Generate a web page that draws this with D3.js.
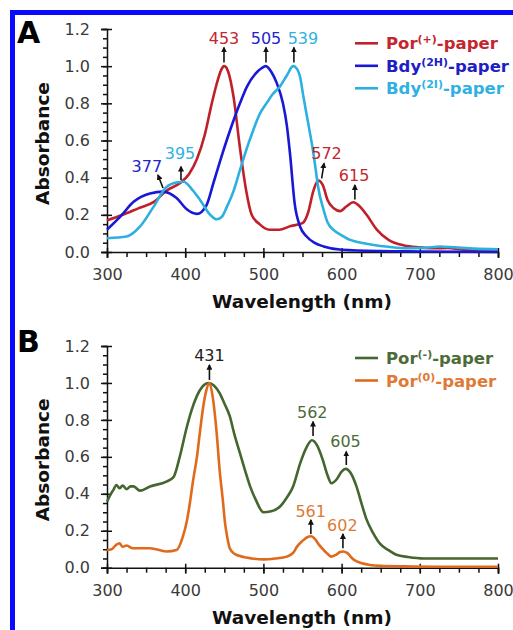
<!DOCTYPE html>
<html>
<head>
<meta charset="utf-8">
<script src="https://cdn.jsdelivr.net/npm/d3@7/dist/d3.min.js"></script>
<style>
  html, body { margin: 0; padding: 0; background: #fff; }
  svg { display: block; font-family: 'DejaVu Sans', Verdana, sans-serif; }
  .axis-title { font-weight: bold; font-size: 18.5px; fill: #111; }
  .legend text { font-weight: bold; font-size: 16.5px; }
  .peak { font-size: 16px; }
</style>
</head>
<body>
<svg id="chart"></svg>
<script>
'use strict';

// ---- data ----
const xTicks = [300, 400, 500, 600, 700, 800];
const yTicks = [0, 0.2, 0.4, 0.6, 0.8, 1.0, 1.2];

const porPlusW = [300, 320, 340, 360, 376, 393, 405, 415, 425, 434, 442, 446, 450, 455, 462, 470, 478, 485, 495, 508, 520, 535, 550, 557, 564, 570, 576, 582, 590, 598, 606, 615, 622, 632, 645, 660, 680, 700, 720, 735, 760, 800];
const porPlusA = [0.17, 0.20, 0.235, 0.27, 0.33, 0.37, 0.42, 0.50, 0.63, 0.80, 0.93, 0.98, 1.0, 0.97, 0.83, 0.56, 0.33, 0.20, 0.15, 0.12, 0.12, 0.14, 0.155, 0.21, 0.33, 0.385, 0.36, 0.28, 0.235, 0.22, 0.245, 0.268, 0.25, 0.20, 0.12, 0.065, 0.035, 0.025, 0.02, 0.022, 0.01, 0.005];

const bdy2HW = [300, 317, 334, 355, 372, 389, 402, 415, 427, 436, 445, 453, 462, 470, 479, 490, 498, 503, 510, 517, 525, 530, 534, 540, 547, 555, 565, 577, 600, 650, 700, 800];
const bdy2HA = [0.12, 0.19, 0.27, 0.315, 0.325, 0.29, 0.23, 0.205, 0.25, 0.37, 0.495, 0.60, 0.71, 0.80, 0.89, 0.96, 0.99, 1.0, 0.97, 0.91, 0.80, 0.68, 0.53, 0.26, 0.136, 0.085, 0.05, 0.03, 0.012, 0.005, 0.003, 0.0];

const bdy2IW = [300, 325, 342, 359, 376, 390, 398, 410, 419, 432, 440, 447, 453, 462, 470, 479, 487, 495, 504, 512, 521, 530, 538, 542, 547, 551, 555, 560, 564, 567, 570, 577, 582, 590, 600, 611, 625, 641, 660, 683, 705, 726, 745, 770, 800];
const bdy2IA = [0.074, 0.083, 0.136, 0.24, 0.35, 0.375, 0.378, 0.33, 0.28, 0.20, 0.176, 0.19, 0.24, 0.33, 0.44, 0.56, 0.655, 0.74, 0.80, 0.85, 0.89, 0.95, 1.0, 0.99, 0.94, 0.84, 0.745, 0.63, 0.53, 0.44, 0.35, 0.226, 0.16, 0.118, 0.09, 0.065, 0.05, 0.038, 0.028, 0.02, 0.022, 0.03, 0.025, 0.018, 0.015];

const porMinusW = [300, 305, 308, 312, 316, 320, 325, 330, 334, 342, 355, 376, 385, 393, 402, 408, 415, 422, 430, 437, 444, 450, 457, 463, 470, 477, 483, 490, 500, 510, 521, 530, 538, 547, 555, 562, 569, 576, 582, 587, 594, 600, 605, 612, 619, 626, 632, 640, 649, 660, 670, 685, 705, 750, 800];
const porMinusA = [0.357, 0.40, 0.42, 0.448, 0.43, 0.445, 0.425, 0.44, 0.44, 0.417, 0.44, 0.466, 0.49, 0.60, 0.76, 0.85, 0.93, 0.98, 1.0, 0.985, 0.945, 0.89, 0.82, 0.72, 0.62, 0.52, 0.44, 0.37, 0.30, 0.305, 0.33, 0.38, 0.44, 0.565, 0.65, 0.69, 0.66, 0.583, 0.50, 0.457, 0.48, 0.52, 0.535, 0.51, 0.44, 0.34, 0.26, 0.19, 0.13, 0.095, 0.07, 0.058, 0.05, 0.05, 0.05];

const porZeroW = [300, 306, 312, 316, 320, 325, 333, 355, 376, 389, 397, 402, 406, 410, 415, 419, 423, 427, 431, 435, 440, 444, 448, 451, 454, 457, 463, 470, 485, 500, 515, 530, 538, 543, 550, 556, 561, 566, 571, 577, 582, 587, 593, 598, 602, 607, 615, 625, 636, 650, 680, 720, 800];
const porZeroA = [0.096, 0.10, 0.125, 0.132, 0.113, 0.12, 0.105, 0.105, 0.088, 0.096, 0.168, 0.25, 0.35, 0.47, 0.60, 0.74, 0.87, 0.96, 1.0, 0.93, 0.74, 0.53, 0.37, 0.24, 0.16, 0.105, 0.075, 0.063, 0.05, 0.045, 0.05, 0.06, 0.08, 0.114, 0.145, 0.165, 0.17, 0.155, 0.125, 0.096, 0.075, 0.06, 0.07, 0.085, 0.088, 0.08, 0.045, 0.025, 0.015, 0.01, 0.007, 0.005, 0.005];

// peak labels: text, arrow base (w,a), arrow tip (w,a), text anchor (w,a)
const peaksA = [
  {t: '453', c: '#c4262e', from: [449.6, 1.02], to: [449.6, 1.10], at: [449.6, 1.12]},
  {t: '505', c: '#2424cc', from: [503.3, 1.02], to: [503.3, 1.10], at: [503.3, 1.12]},
  {t: '539', c: '#2fb2e2', from: [539, 1.02], to: [539, 1.10], at: [550.6, 1.12]},
  {t: '377', c: '#2424cc', from: [371.6, 0.344], to: [365.2, 0.414], at: [351, 0.43]},
  {t: '395', c: '#2fb2e2', from: [394.6, 0.387], to: [394.6, 0.459], at: [393.4, 0.50]},
  {t: '572', c: '#c4262e', from: [574.5, 0.396], to: [577.5, 0.477], at: [580.7, 0.50]},
  {t: '615', c: '#c4262e', from: [617, 0.283], to: [617, 0.36], at: [616, 0.383]}
];
const peaksB = [
  {t: '431', c: '#222', from: [431, 1.016], to: [431, 1.097], at: [431, 1.12]},
  {t: '562', c: '#4d6b38', from: [563.5, 0.713], to: [563.5, 0.79], at: [562.5, 0.809]},
  {t: '605', c: '#4d6b38', from: [606, 0.556], to: [606, 0.628], at: [605, 0.655]},
  {t: '561', c: '#de7a36', from: [560.7, 0.182], to: [560.7, 0.258], at: [560.5, 0.276]},
  {t: '602', c: '#de7a36', from: [601.7, 0.105], to: [601.7, 0.182], at: [601, 0.20]}
];

const seriesA = [
  {name: 'Por', sup: '(+)', w: porPlusW, a: porPlusA, color: '#c0202a', text: '#c4262e'},
  {name: 'Bdy', sup: '(2H)', w: bdy2HW, a: bdy2HA, color: '#1818d6', text: '#1e1ec4'},
  {name: 'Bdy', sup: '(2I)', w: bdy2IW, a: bdy2IA, color: '#2cb0e0', text: '#2fb2e2'}
];
const seriesB = [
  {name: 'Por', sup: '(-)', w: porMinusW, a: porMinusA, color: '#45662e', text: '#4d6b38'},
  {name: 'Por', sup: '(0)', w: porZeroW, a: porZeroA, color: '#e06a1c', text: '#de7a36'}
];

// ---- drawing ----
const W = 513, H = 630;
const svg = d3.select('#chart').attr('width', W).attr('height', H);
svg.append('rect').attr('width', W).attr('height', H).attr('fill', '#fff');

svg.append('defs').append('marker')
    .attr('id', 'head')
    .attr('viewBox', '0 0 10 10')
    .attr('refX', 8).attr('refY', 5)
    .attr('markerWidth', 6).attr('markerHeight', 6)
    .attr('markerUnits', 'userSpaceOnUse')
    .attr('orient', 'auto')
  .append('path')
    .attr('d', 'M0,0 L10,5 L0,10 Z')
    .attr('fill', '#111');

// blue frame
svg.append('line').attr('x1', 10).attr('x2', W).attr('y1', 12.5).attr('y2', 12.5)
    .attr('stroke', '#0a0aff').attr('stroke-width', 5);
svg.append('line').attr('x1', 12.5).attr('x2', 12.5).attr('y1', 10).attr('y2', H)
    .attr('stroke', '#0a0aff').attr('stroke-width', 5);

function drawPanel(letter, series, peaks, yBottom, yTop, letterY, legendY) {
  const x = d3.scaleLinear().domain([300, 800]).range([107, 498]);
  const y = d3.scaleLinear().domain([0, 1.2]).range([yBottom, yTop]);

  const g = svg.append('g');

  // minor ticks
  g.append('g')
      .attr('transform', `translate(0, ${yBottom})`)
      .call(d3.axisBottom(x).tickValues(d3.range(300, 801, 25)).tickSize(5).tickFormat(''))
      .call(s => s.select('.domain').remove())
      .selectAll('line').attr('stroke', '#111').attr('stroke-width', 1.3);
  g.append('g')
      .attr('transform', 'translate(107, 0)')
      .call(d3.axisLeft(y).tickValues(d3.range(0, 1.2001, 0.05)).tickSize(4).tickFormat(''))
      .call(s => s.select('.domain').remove())
      .selectAll('line').attr('stroke', '#111').attr('stroke-width', 1.3);

  // major axes
  const xa = g.append('g')
      .attr('transform', `translate(0, ${yBottom})`)
      .call(d3.axisBottom(x).tickValues(xTicks).tickSizeOuter(0).tickSize(6).tickPadding(11).tickFormat(d3.format('d')))
      .attr('font-size', 16).attr('font-family', 'DejaVu Sans');
  xa.selectAll('.tick line').attr('y1', -4);
  const ya = g.append('g')
      .attr('transform', 'translate(107, 0)')
      .call(d3.axisLeft(y).tickValues(yTicks).tickSizeOuter(0).tickSize(6).tickPadding(11).tickFormat(d3.format('.1f')))
      .attr('font-size', 16).attr('font-family', 'DejaVu Sans');
  ya.selectAll('.tick line').attr('x1', 5);
  g.selectAll('.domain, .tick line').attr('stroke', '#111').attr('stroke-width', 1.5);
  g.selectAll('.tick text').attr('fill', '#3a3a3a');

  g.append('text')
      .attr('class', 'axis-title')
      .attr('x', 302).attr('y', yBottom + 56)
      .attr('text-anchor', 'middle')
      .text('Wavelength (nm)');
  g.append('text')
      .attr('class', 'axis-title')
      .attr('transform', `translate(49, ${(yBottom + yTop) / 2 + 3}) rotate(-90)`)
      .attr('text-anchor', 'middle')
      .text('Absorbance');

  g.append('text')
      .attr('x', 17).attr('y', letterY)
      .attr('font-size', 30).attr('font-weight', 'bold').attr('fill', '#000')
      .style('font-family', 'DejaVu Sans')
      .text(letter);

  const line = d3.line()
      .x(d => x(d[0]))
      .y(d => y(d[1]))
      .curve(d3.curveMonotoneX);

  series.forEach(s => {
    g.append('path')
        .datum(s.w.map((w, i) => [w, s.a[i]]))
        .attr('d', line)
        .attr('fill', 'none')
        .attr('stroke', s.color)
        .attr('stroke-width', 2.6)
        .attr('stroke-linejoin', 'round');
  });

  peaks.forEach(p => {
    g.append('line')
        .attr('x1', x(p.from[0])).attr('y1', y(p.from[1]))
        .attr('x2', x(p.to[0])).attr('y2', y(p.to[1]))
        .attr('stroke', '#111').attr('stroke-width', 1.6)
        .attr('marker-end', 'url(#head)');
    g.append('text')
        .attr('class', 'peak')
        .attr('x', x(p.at[0])).attr('y', y(p.at[1]))
        .attr('text-anchor', 'middle')
        .attr('fill', p.c)
        .text(p.t);
  });

  const legend = g.append('g').attr('class', 'legend');
  series.forEach((s, i) => {
    const ly = legendY + i * 22.5;
    legend.append('line')
        .attr('x1', 355).attr('x2', 378).attr('y1', ly).attr('y2', ly)
        .attr('stroke', s.color).attr('stroke-width', 2.6);
    const t = legend.append('text')
        .attr('x', 386).attr('y', ly + 6)
        .attr('fill', s.text);
    t.append('tspan').text(s.name);
    t.append('tspan').attr('font-size', 11).attr('dy', -6).text(s.sup);
    t.append('tspan').attr('dy', 6).text('-paper');
  });
}

drawPanel('A', seriesA, peaksA, 252, 29, 43, 43.3);
drawPanel('B', seriesB, peaksB, 567.7, 346, 352, 358);
</script>
</body>
</html>
